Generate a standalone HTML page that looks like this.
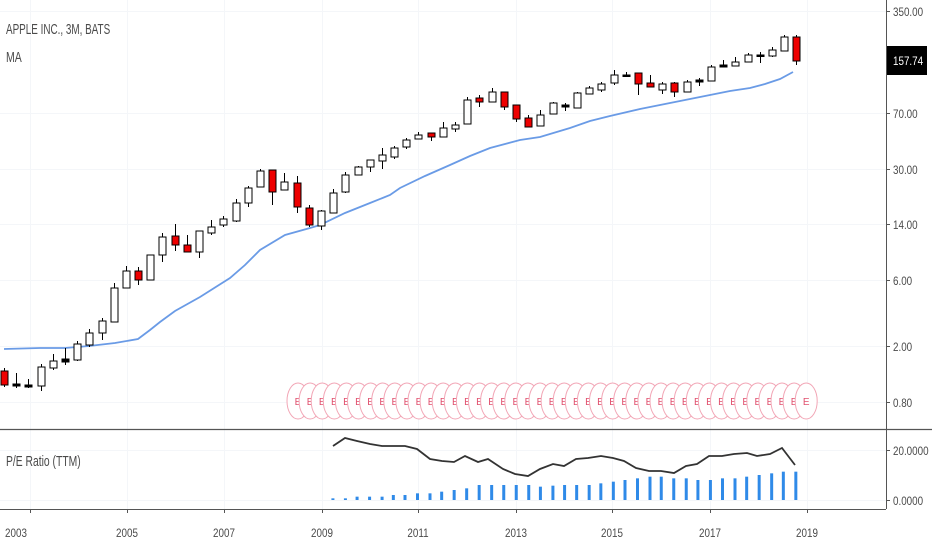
<!DOCTYPE html>
<html><head><meta charset="utf-8">
<style>
html,body{margin:0;padding:0;background:#fff;}
svg{display:block;font-family:"Liberation Sans",sans-serif;}
</style></head>
<body>
<svg id="c" width="932" height="550" viewBox="0 0 932 550" xmlns="http://www.w3.org/2000/svg">
<rect width="932" height="550" fill="#fff"/>
<g stroke="#f4f6f9" stroke-width="1">
<line x1="0" y1="11.5" x2="886" y2="11.5"/>
<line x1="0" y1="113.5" x2="886" y2="113.5"/>
<line x1="0" y1="169.5" x2="886" y2="169.5"/>
<line x1="0" y1="224.5" x2="886" y2="224.5"/>
<line x1="0" y1="280.5" x2="886" y2="280.5"/>
<line x1="0" y1="346.5" x2="886" y2="346.5"/>
<line x1="0" y1="402.5" x2="886" y2="402.5"/>
<line x1="0" y1="450.5" x2="886" y2="450.5"/>
<line x1="0" y1="500.5" x2="886" y2="500.5"/>
<line x1="30.5" y1="0" x2="30.5" y2="509"/>
<line x1="127.5" y1="0" x2="127.5" y2="509"/>
<line x1="224.5" y1="0" x2="224.5" y2="509"/>
<line x1="322.5" y1="0" x2="322.5" y2="509"/>
<line x1="418.5" y1="0" x2="418.5" y2="509"/>
<line x1="516.5" y1="0" x2="516.5" y2="509"/>
<line x1="612.5" y1="0" x2="612.5" y2="509"/>
<line x1="710.5" y1="0" x2="710.5" y2="509"/>
<line x1="807.5" y1="0" x2="807.5" y2="509"/>
</g>
<g id="ma"></g>
<g id="cd"></g>
<g id="earn"></g>
<g id="pe"></g>
<!-- axes -->
<line x1="886.5" y1="0" x2="886.5" y2="509" stroke="#555" stroke-width="1"/>
<line x1="0" y1="429.5" x2="932" y2="429.5" stroke="#555" stroke-width="1.3"/>
<line x1="0" y1="509.5" x2="886" y2="509.5" stroke="#555" stroke-width="1"/>
<g stroke="#555">
<line x1="886" y1="11.5" x2="890" y2="11.5"/><line x1="886" y1="113.5" x2="890" y2="113.5"/>
<line x1="886" y1="169.5" x2="890" y2="169.5"/><line x1="886" y1="224.5" x2="890" y2="224.5"/>
<line x1="886" y1="280.5" x2="890" y2="280.5"/><line x1="886" y1="346.5" x2="890" y2="346.5"/>
<line x1="886" y1="402.5" x2="890" y2="402.5"/><line x1="886" y1="450.5" x2="890" y2="450.5"/>
<line x1="886" y1="500.5" x2="890" y2="500.5"/>
<line x1="30.5" y1="509" x2="30.5" y2="513"/><line x1="127.5" y1="509" x2="127.5" y2="513"/>
<line x1="224.5" y1="509" x2="224.5" y2="513"/><line x1="322.5" y1="509" x2="322.5" y2="513"/>
<line x1="418.5" y1="509" x2="418.5" y2="513"/><line x1="516.5" y1="509" x2="516.5" y2="513"/>
<line x1="612.5" y1="509" x2="612.5" y2="513"/><line x1="710.5" y1="509" x2="710.5" y2="513"/>
<line x1="807.5" y1="509" x2="807.5" y2="513"/>
</g>
<g fill="#4a4a4a" font-size="12">
<g transform="translate(893,0) scale(0.82,1)">
<text x="0" y="16">350.00</text><text x="0" y="118">70.00</text><text x="0" y="174">30.00</text>
<text x="0" y="229">14.00</text><text x="0" y="285">6.00</text><text x="0" y="351">2.00</text>
<text x="0" y="407">0.80</text><text x="0" y="455">20.0000</text><text x="0" y="505">0.0000</text>
</g>
</g>
<rect x="887" y="46" width="40" height="29" fill="#000"/>
<text fill="#fff" font-size="12" transform="translate(893,65) scale(0.82,1)">157.74</text>
<g fill="#4a4a4a" font-size="12" text-anchor="middle">
<g transform="translate(0,537)">
<text transform="translate(16,0) scale(0.82,1)">2003</text>
<text transform="translate(127,0) scale(0.82,1)">2005</text>
<text transform="translate(224,0) scale(0.82,1)">2007</text>
<text transform="translate(322,0) scale(0.82,1)">2009</text>
<text transform="translate(418,0) scale(0.82,1)">2011</text>
<text transform="translate(516,0) scale(0.82,1)">2013</text>
<text transform="translate(612,0) scale(0.82,1)">2015</text>
<text transform="translate(710,0) scale(0.82,1)">2017</text>
<text transform="translate(807,0) scale(0.82,1)">2019</text>
</g>
</g>
<g fill="#4a4a4a" font-size="15">
<text transform="translate(6,34) scale(0.66,1)">APPLE INC., 3M, BATS</text>
<text transform="translate(6,62) scale(0.7,1)">MA</text>
<text transform="translate(6,466) scale(0.69,1)">P/E Ratio (TTM)</text>
</g>
</svg>
<script>
var NS="http://www.w3.org/2000/svg";
function el(p,t,a){var e=document.createElementNS(NS,t);for(var k in a)e.setAttribute(k,a[k]);document.getElementById(p).appendChild(e);return e;}
var C=[
[371,385,368,387,'r'],[384,386,373,388,'d'],[385,387,379,388,'d'],[367,386,364,391,'w'],
[361,368,354,370,'w'],[359,362,348,365,'d'],[344,360,341,361,'w'],[333,345,329,347,'w'],
[321,333,318,340,'w'],[288,322,283,322,'w'],[271,288,266,288,'w'],[271,280,267,285,'r'],
[255,280,255,280,'w'],[237,255,233,262,'w'],[236,245,224,251,'r'],[245,252,235,252,'r'],
[231,252,231,258,'w'],[227,233,220,235,'w'],[219,225,216,227,'w'],[203,221,199,222,'w'],
[188,203,186,207,'w'],[171,187,169,187,'w'],[170,192,170,205,'r'],[182,190,173,190,'w'],
[183,207,176,213,'r'],[208,225,205,227,'r'],[211,226,210,230,'w'],[193,213,189,213,'w'],
[175,192,172,193,'w'],[167,175,166,175,'w'],[160,167,160,172,'w'],[155,161,148,169,'w'],
[148,157,146,159,'w'],[140,147,138,149,'w'],[135,139,132,139,'w'],[133,137,133,141,'r'],
[128,137,122,137,'w'],[125,129,122,132,'w'],[100,124,97,124,'w'],[98,102,95,107,'r'],
[92,102,88,102,'w'],[92,107,92,110,'r'],[105,119,105,122,'r'],[118,127,115,127,'r'],
[115,126,110,126,'w'],[103,114,102,114,'w'],[105,107,103,111,'d'],[93,108,92,108,'w'],
[88,94,86,94,'w'],[84,90,82,92,'w'],[75,83,70,85,'w'],[75,76,72,76,'d'],
[73,84,73,95,'r'],[83,87,75,87,'r'],[84,90,82,94,'w'],[83,92,82,97,'r'],
[82,92,80,92,'w'],[80,82,78,86,'d'],[67,81,65,81,'w'],[65,67,60,67,'d'],
[62,66,57,66,'w'],[55,62,53,62,'w'],[55,56,52,63,'d'],[50,56,47,57,'w'],
[37,51,35,51,'w'],[37,61,35,65,'r']];
var ma=[[4,349],[40,348],[65,348],[89,346],[115,343],[138,339],[150,330],[160,322],[175,311],[200,297],[230,278],[245,265],[260,250],[285,235],[310,228],[320,225],[345,213],[370,203],[390,195],[400,188],[425,176],[450,165],[470,156],[490,148],[520,140],[540,137],[570,128],[590,121],[610,116],[640,109],[660,105],[680,101],[710,95],[730,91],[750,88],[765,84],[780,79],[793,72]];
el('ma','polyline',{points:ma.map(function(p){return p.join(',')}).join(' '),fill:'none',stroke:'#6a9be6','stroke-width':'1.8'});
C.forEach(function(c,i){
  var x=Math.round(4+i*12.19)+0.5;
  el('cd','line',{x1:x,x2:x,y1:c[2],y2:c[3],stroke:'#000','stroke-width':1});
  var h=Math.max(c[1]-c[0],1.5);
  var fill=c[4]=='r'?'#e00':(c[4]=='d'?'#000':'#fff');
  el('cd','rect',{x:x-3.5,y:c[0],width:7,height:h,fill:fill,stroke:'#000','stroke-width':1});
});
for(var i=0;i<43;i++){
  var cx=298+i*12.1;
  el('earn','ellipse',{cx:cx,cy:401,rx:11,ry:18,fill:'#fff',stroke:'#f2a6b6','stroke-width':1});
  var t=el('earn','text',{x:cx,y:405,'font-size':'10','text-anchor':'middle',fill:'#e0506e'});
  t.textContent='E';
}
var pe=[[333,446],[345,438],[357,441],[370,444],[382,446],[405,446],[417,449],[430,459],[442,461],[454,462],[465,456],[478,462],[488,459],[503,469],[515,474],[528,476],[540,469],[553,464],[564,466],[576,459],[588,458],[601,456],[613,458],[624,461],[636,468],[649,471],[661,471],[674,473],[686,466],[697,464],[709,456],[722,456],[734,454],[747,453],[757,456],[770,454],[782,448],[795,465]];
var bars=[[127,385],[157,385],[185,380],[215,380],[245,380],[272,375],[300,375],[330,370],[360,370],[388,365],[418,360],[448,355],[478,345],[508,345],[537,345],[567,345],[597,345],[625,350],[655,347],[683,345],[712,345],[742,345],[770,340],[800,335],[828,330],[858,325],[888,320],[915,320],[945,325],[975,325],[1003,330],[1033,330],[1062,325],[1092,325],[1120,320],[1150,315],[1180,310],[1208,305],[1238,305]];
bars.forEach(function(b){
  var x=280+b[0]/2.4, top=370+b[1]/3;
  el('pe','rect',{x:x-1.5,y:top,width:3,height:500-top,fill:'#2f8ae8'});
});
el('pe','polyline',{points:pe.map(function(p){return p.join(',')}).join(' '),fill:'none',stroke:'#333','stroke-width':'1.8'});
</script>
</body></html>
